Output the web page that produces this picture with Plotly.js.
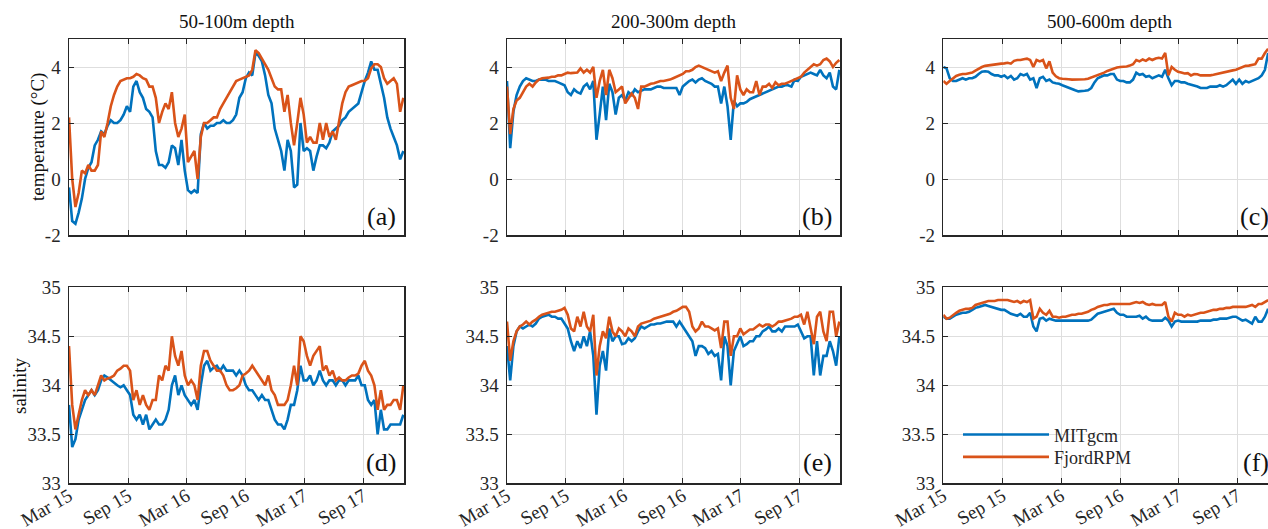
<!DOCTYPE html>
<html>
<head>
<meta charset="utf-8">
<script src="https://cdn.plot.ly/plotly-3.0.1.min.js"></script>
<style>
  html, body { margin: 0; padding: 0; background: #fff; }
  #chart { width: 1268px; height: 529px; }
</style>
</head>
<body>
<div id="chart"></div>
<script>
// Time base: samples every 10 days from 1 March 2015
const startDate = '2015-03-01';
const stepDays = 10;

// Axis ticks
const tickDates = ['2015-03-01', '2015-09-01', '2016-03-01', '2016-09-01', '2017-03-01', '2017-09-01'];
const tickLabels = ['Mar 15', 'Sep 15', 'Mar 16', 'Sep 16', 'Mar 17', 'Sep 17'];
const tempTicks = [-2, 0, 2, 4];
const tempTickLabels = ['-2', '0', '2', '4'];
const saltTicks = [33, 33.5, 34, 34.5, 35];
const saltTickLabels = ['33', '33.5', '34', '34.5', '35'];

const depthTitles = ['50-100m depth', '200-300m depth', '500-600m depth'];
const panelLetters = ['(a)', '(b)', '(c)', '(d)', '(e)', '(f)'];
const modelNames = ['MITgcm', 'FjordRPM'];

// Temperature (°C), 50-100 m
const tempShallowMIT = [-0.3,-1.5,-1.6,-1.2,-0.7,0.0,0.4,0.6,1.2,1.4,
  1.7,1.6,1.9,2.1,2.0,2.0,2.1,2.3,2.6,2.4,
  3.3,3.5,3.1,2.9,2.5,2.4,2.2,1.0,0.5,0.5,
  0.4,0.6,1.2,1.1,0.5,1.4,0.3,-0.4,-0.5,-0.4,
  -0.5,1.6,2.0,1.8,1.9,1.9,2.0,2.0,2.1,2.0,
  2.0,2.1,2.3,2.9,3.1,3.6,3.8,3.7,4.5,4.4,
  4.2,3.7,3.0,2.7,1.8,1.4,1.0,0.3,1.4,1.0,
  -0.3,-0.2,2.0,1.0,1.1,1.0,0.3,0.8,1.2,1.2,
  1.1,1.3,1.7,1.8,1.9,2.1,2.2,2.4,2.5,2.6,
  2.7,3.1,3.5,3.8,4.2,3.9,3.9,3.4,2.9,2.2,
  1.8,1.5,1.2,0.7,1.0];
const tempShallowFjord = [2.2,0.0,-1.0,-0.5,0.3,0.2,0.5,0.3,0.3,0.5,
  1.7,1.5,2.0,2.6,3.0,3.3,3.5,3.55,3.6,3.6,
  3.65,3.75,3.7,3.6,3.55,3.3,3.3,2.9,2.0,2.4,
  2.7,2.5,3.1,2.0,1.5,1.8,2.3,0.6,0.8,1.0,
  0.0,1.5,2.0,2.0,2.1,2.2,2.2,2.5,2.7,2.9,
  3.1,3.3,3.5,3.55,3.6,3.65,3.7,3.9,4.6,4.5,
  4.3,4.1,3.9,3.6,3.3,3.2,3.2,2.4,3.0,2.0,
  1.2,2.0,2.9,2.3,1.3,1.5,1.3,1.3,2.0,1.4,
  2.0,1.5,1.7,1.4,2.0,2.7,3.1,3.3,3.35,3.4,
  3.45,3.5,3.5,3.6,3.95,4.1,4.1,4.0,3.6,3.4,
  3.5,3.6,3.4,2.4,2.9];

// Temperature (°C), 200-300 m
const tempMidMIT = [3.5,1.1,2.4,3.0,3.3,3.5,3.6,3.55,3.5,3.5,
  3.55,3.55,3.55,3.5,3.5,3.5,3.45,3.4,3.35,3.1,
  3.0,3.2,3.1,3.05,3.3,3.4,3.2,3.5,1.4,2.3,
  3.3,2.1,3.4,3.1,2.3,2.9,3.0,2.8,3.1,3.0,
  3.2,3.1,3.15,3.2,3.2,3.2,3.25,3.3,3.3,3.25,
  3.25,3.25,3.25,3.25,3.0,3.3,3.4,3.5,3.55,3.45,
  3.55,3.6,3.5,3.45,3.4,3.3,3.3,2.7,3.3,2.6,
  1.4,2.8,2.6,2.7,2.7,2.75,2.85,2.9,2.95,3.0,
  3.05,3.1,3.15,3.2,3.25,3.3,3.3,3.35,3.35,3.3,
  3.55,3.5,3.65,3.7,3.75,3.8,3.75,3.7,3.9,3.7,
  3.6,3.8,3.3,3.2,3.9];
const tempMidFjord = [3.3,1.6,2.5,2.8,2.9,3.1,3.3,3.4,3.3,3.45,
  3.55,3.6,3.6,3.62,3.65,3.65,3.7,3.7,3.75,3.8,
  3.78,3.78,3.8,3.95,3.8,3.9,3.8,4.0,2.9,3.5,
  3.9,3.0,3.9,3.6,3.1,3.2,3.3,2.7,2.9,3.05,
  2.9,2.5,3.3,3.3,3.35,3.4,3.42,3.45,3.5,3.5,
  3.52,3.55,3.6,3.65,3.7,3.75,3.85,3.85,3.9,4.0,
  4.05,4.0,3.95,3.9,3.85,3.8,3.85,3.5,3.8,4.05,
  2.9,2.5,3.7,3.2,3.0,3.2,3.1,3.1,3.5,3.0,
  3.3,3.3,3.4,3.25,3.45,3.35,3.4,3.4,3.45,3.5,
  3.55,3.6,3.65,3.8,3.9,4.0,4.1,4.05,4.1,4.25,
  4.3,4.2,4.0,4.15,4.25];

// Temperature (°C), 500-600 m
const tempDeepMIT = [4.0,3.95,3.6,3.5,3.5,3.55,3.6,3.55,3.6,3.6,
  3.65,3.75,3.83,3.85,3.83,3.75,3.7,3.7,3.65,3.7,
  3.6,3.68,3.55,3.6,3.75,3.7,3.75,3.55,3.6,3.25,
  3.6,3.65,3.5,3.55,3.45,3.42,3.4,3.35,3.3,3.27,
  3.22,3.17,3.13,3.13,3.15,3.17,3.25,3.45,3.6,3.65,
  3.7,3.7,3.75,3.75,3.55,3.5,3.5,3.45,3.45,3.55,
  3.8,3.72,3.75,3.65,3.68,3.6,3.65,3.7,3.65,3.9,
  3.6,3.35,3.5,3.5,3.45,3.45,3.4,3.37,3.35,3.3,
  3.25,3.25,3.25,3.3,3.3,3.3,3.35,3.3,3.35,3.45,
  3.55,3.4,3.55,3.4,3.5,3.45,3.5,3.55,3.6,3.7,
  3.9,4.5];
const tempDeepFjord = [3.5,3.4,3.5,3.6,3.68,3.72,3.75,3.75,3.78,3.8,
  3.87,3.95,4.0,4.04,4.06,4.08,4.1,4.11,4.12,4.13,
  4.15,4.12,4.22,4.25,4.25,4.28,4.3,4.25,4.0,4.25,
  4.2,4.25,3.95,4.2,3.8,3.67,3.6,3.58,3.58,3.56,
  3.55,3.55,3.55,3.55,3.56,3.58,3.62,3.66,3.72,3.76,
  3.8,3.86,3.9,3.95,3.98,4.0,4.0,4.02,4.05,4.1,
  4.25,4.2,4.27,4.22,4.3,4.25,4.3,4.33,4.3,4.5,
  3.7,4.0,3.9,3.83,3.8,3.77,3.78,3.7,3.75,3.74,
  3.7,3.7,3.68,3.7,3.72,3.75,3.78,3.8,3.82,3.85,
  3.88,3.9,3.95,4.0,4.04,4.05,4.08,4.1,4.3,4.3,
  4.5,4.65];

// Salinity, 50-100 m
const saltShallowMIT = [33.8,33.37,33.45,33.65,33.75,33.85,33.9,33.95,33.9,33.95,
  34.05,34.1,34.08,34.05,34.03,34.0,33.98,34.0,33.95,33.9,
  33.7,33.65,33.7,33.6,33.7,33.55,33.6,33.65,33.6,33.6,
  33.65,33.75,34.0,34.1,33.9,34.0,33.9,33.85,33.8,33.85,
  33.75,34.0,34.2,34.25,34.15,34.18,34.2,34.15,34.2,34.15,
  34.15,34.15,34.1,34.15,34.1,34.0,33.95,33.95,33.9,33.85,
  33.9,33.85,33.85,33.75,33.65,33.6,33.6,33.55,33.65,33.8,
  33.8,33.95,34.2,34.05,34.05,34.1,34.0,34.05,34.15,34.05,
  34.0,34.05,34.05,34.0,34.05,34.05,34.0,34.05,34.05,34.05,
  34.1,34.0,34.0,33.85,33.8,33.85,33.5,33.75,33.55,33.55,
  33.6,33.6,33.6,33.6,33.7];
const saltShallowFjord = [34.4,33.8,33.55,33.7,33.85,33.95,33.9,33.95,33.9,34.0,
  34.1,34.05,34.07,34.08,34.1,34.15,34.17,34.2,34.2,34.15,
  33.85,33.95,33.8,33.9,33.8,33.75,33.85,33.85,34.1,34.05,
  34.2,34.15,34.5,34.3,34.2,34.35,34.1,34.0,34.05,34.0,
  33.85,34.2,34.35,34.35,34.25,34.2,34.15,34.15,34.1,34.0,
  33.95,33.95,33.97,34.0,34.1,34.12,34.15,34.2,34.15,34.1,
  34.05,34.0,34.1,33.95,33.9,33.8,33.8,33.8,33.85,34.0,
  34.2,34.0,34.5,34.45,34.3,34.2,34.3,34.35,34.4,34.15,
  34.2,34.1,34.15,34.05,34.08,34.05,34.05,34.08,34.1,34.1,
  34.12,34.2,34.25,34.15,34.1,34.0,33.75,33.95,33.75,33.8,
  33.8,33.85,33.85,33.75,34.0];

// Salinity, 200-300 m
const saltMidMIT = [34.4,34.05,34.4,34.55,34.6,34.58,34.6,34.62,34.6,34.63,
  34.68,34.7,34.71,34.72,34.7,34.7,34.68,34.68,34.63,34.58,
  34.45,34.35,34.45,34.38,34.5,34.4,34.55,34.3,33.7,34.2,
  34.35,34.15,34.58,34.45,34.5,34.5,34.42,34.43,34.48,34.45,
  34.48,34.55,34.6,34.58,34.6,34.62,34.62,34.63,34.63,34.64,
  34.65,34.65,34.65,34.6,34.65,34.6,34.55,34.5,34.45,34.3,
  34.4,34.4,34.38,34.32,34.35,34.3,34.32,34.05,34.5,34.4,
  34.0,34.35,34.42,34.5,34.4,34.42,34.45,34.45,34.5,34.5,
  34.55,34.57,34.6,34.55,34.55,34.58,34.55,34.6,34.6,34.6,
  34.6,34.62,34.55,34.48,34.5,34.5,34.1,34.45,34.1,34.3,
  34.3,34.45,34.35,34.2,34.5];
const saltMidFjord = [34.65,34.25,34.45,34.55,34.6,34.62,34.65,34.62,34.65,34.67,
  34.7,34.72,34.73,34.74,34.75,34.75,34.76,34.77,34.79,34.72,
  34.58,34.55,34.7,34.6,34.75,34.6,34.55,34.72,34.1,34.4,
  34.55,34.48,34.7,34.55,34.5,34.58,34.55,34.5,34.58,34.55,
  34.5,34.6,34.63,34.64,34.65,34.66,34.68,34.69,34.7,34.71,
  34.72,34.73,34.75,34.76,34.78,34.8,34.8,34.75,34.6,34.55,
  34.58,34.65,34.6,34.6,34.58,34.56,34.58,34.38,34.65,34.65,
  34.3,34.5,34.5,34.58,34.52,34.55,34.57,34.57,34.6,34.62,
  34.6,34.62,34.62,34.6,34.62,34.65,34.65,34.66,34.67,34.68,
  34.7,34.7,34.72,34.62,34.75,34.6,34.42,34.7,34.75,34.55,
  34.45,34.75,34.75,34.5,34.65];

// Salinity, 500-600 m
const saltDeepMIT = [34.7,34.68,34.68,34.7,34.72,34.73,34.74,34.74,34.75,34.77,
  34.79,34.8,34.81,34.82,34.81,34.8,34.79,34.78,34.77,34.77,
  34.75,34.73,34.72,34.71,34.73,34.7,34.7,34.74,34.6,34.55,
  34.68,34.69,34.66,34.68,34.67,34.66,34.66,34.66,34.66,34.66,
  34.66,34.66,34.66,34.66,34.66,34.66,34.67,34.7,34.73,34.74,
  34.75,34.76,34.77,34.78,34.74,34.72,34.72,34.7,34.7,34.7,
  34.7,34.71,34.68,34.7,34.67,34.66,34.66,34.66,34.66,34.69,
  34.66,34.6,34.65,34.66,34.65,34.65,34.65,34.65,34.65,34.65,
  34.66,34.66,34.66,34.66,34.67,34.67,34.68,34.68,34.68,34.69,
  34.7,34.7,34.68,34.66,34.67,34.65,34.63,34.7,34.65,34.65,
  34.7,34.78];
const saltDeepFjord = [34.72,34.68,34.69,34.72,34.74,34.76,34.77,34.78,34.78,34.79,
  34.82,34.83,34.84,34.85,34.86,34.86,34.86,34.87,34.87,34.87,
  34.87,34.86,34.85,34.86,34.84,34.86,34.85,34.87,34.68,34.7,
  34.78,34.74,34.72,34.76,34.7,34.7,34.69,34.7,34.7,34.71,
  34.72,34.72,34.73,34.73,34.74,34.75,34.77,34.78,34.8,34.81,
  34.82,34.82,34.83,34.83,34.83,34.83,34.83,34.83,34.83,34.84,
  34.85,34.84,34.85,34.83,34.82,34.83,34.82,34.82,34.82,34.85,
  34.7,34.65,34.74,34.72,34.72,34.7,34.72,34.71,34.72,34.73,
  34.74,34.74,34.75,34.76,34.77,34.77,34.78,34.78,34.79,34.79,
  34.8,34.8,34.8,34.8,34.8,34.81,34.82,34.8,34.83,34.83,
  34.85,34.87];

// ---- drawing ----
const W = 1268, H = 529;
const px = v => v / W;          // horizontal pixel -> paper
const py = v => 1 - v / H;      // vertical pixel -> paper

function sampleDates(n) {
  const t0 = Date.parse(startDate + 'T00:00:00Z');
  return Array.from({length: n}, (_, i) =>
    new Date(t0 + i * stepDays * 86400000).toISOString().slice(0, 10));
}

const blue = '#0072BD', orange = '#D95319';
const ink = '#262626';
const fontFamily = '"Liberation Serif", "Times New Roman", serif';

const panels = [
  {mit: tempShallowMIT, fjord: tempShallowFjord},
  {mit: tempMidMIT, fjord: tempMidFjord},
  {mit: tempDeepMIT, fjord: tempDeepFjord},
  {mit: saltShallowMIT, fjord: saltShallowFjord},
  {mit: saltMidMIT, fjord: saltMidFjord},
  {mit: saltDeepMIT, fjord: saltDeepFjord}
];

// panel frames in pixels
const colX = [[69, 404], [507, 840], [943.3, 1268]];
const rowY = [[39, 235], [287.3, 483.3]];
const fullEnd = '2018-01-06';
const clippedEnd = '2017-12-04 14:00';

const legendBase = {
  x: px(958), xanchor: 'left', yanchor: 'top',
  bgcolor: 'rgba(0,0,0,0)', borderwidth: 0, itemwidth: 86,
  font: {family: fontFamily, size: 18, color: ink}
};

const traces = [];
const layout = {
  width: W, height: H,
  margin: {l: 0, r: 0, t: 0, b: 0},
  paper_bgcolor: '#fff', plot_bgcolor: '#fff',
  font: {family: fontFamily, size: 19, color: ink},
  showlegend: true,
  legend: Object.assign({}, legendBase, {y: py(416.3)}),
  legend2: Object.assign({}, legendBase, {y: py(438.7)}),
  annotations: []
};

panels.forEach((p, i) => {
  const col = i % 3, row = Math.floor(i / 3);
  const n = i + 1;
  const xa = 'x' + (n === 1 ? '' : n), ya = 'y' + (n === 1 ? '' : n);
  const isLast = col === 2;
  const isLegendPanel = i === 5;

  [p.mit, p.fjord].forEach((vals, j) => {
    traces.push({
      x: sampleDates(vals.length), y: vals,
      type: 'scatter', mode: 'lines',
      name: modelNames[j],
      line: {color: j === 0 ? blue : orange, width: 2.6},
      xaxis: xa, yaxis: ya,
      legend: j === 0 ? 'legend' : 'legend2',
      showlegend: isLegendPanel,
      hoverinfo: 'skip'
    });
  });

  const xKey = 'xaxis' + (n === 1 ? '' : n), yKey = 'yaxis' + (n === 1 ? '' : n);
  layout[xKey] = {
    type: 'date',
    domain: [px(colX[col][0]), Math.min(1, px(colX[col][1]))],
    range: ['2015-03-01', isLast ? clippedEnd : fullEnd],
    anchor: ya,
    tickmode: 'array', tickvals: tickDates, ticktext: tickLabels,
    showticklabels: row === 1, tickangle: -30,
    ticklabelstandoff: -7, ticklabeloverflow: 'allow',
    tickfont: {family: fontFamily, size: 19, color: ink},
    ticks: 'inside', ticklen: 5, tickcolor: ink, tickwidth: 1,
    showline: true, linecolor: ink, linewidth: 1.5, mirror: 'ticks',
    showgrid: true, gridcolor: '#dedede', gridwidth: 1,
    zeroline: false, fixedrange: true
  };
  layout[yKey] = {
    domain: [py(rowY[row][1]), py(rowY[row][0])],
    range: row === 0 ? [-2, 5] : [33, 35],
    anchor: xa,
    tickmode: 'array',
    tickvals: row === 0 ? tempTicks : saltTicks,
    ticktext: row === 0 ? tempTickLabels : saltTickLabels,
    tickfont: {family: fontFamily, size: 19, color: ink},
    ticks: 'inside', ticklen: 5, tickcolor: ink, tickwidth: 1,
    ticklabelstandoff: 3,
    showline: true, linecolor: ink, linewidth: 1.5, mirror: isLast ? false : 'ticks',
    showgrid: true, gridcolor: '#dedede', gridwidth: 1,
    zeroline: false, fixedrange: true
  };

  // panel letter, lower right
  layout.annotations.push({
    text: panelLetters[i], xref: 'paper', yref: 'paper',
    x: px((isLast ? 1277 : colX[col][1]) - 6), y: py(row === 0 ? 217 : 462.5),
    xanchor: 'right', yanchor: 'middle', showarrow: false,
    font: {family: fontFamily, size: 26, color: '#111'}
  });
});

// depth titles
const titleCenters = [236.5, 673.5, 1110];
depthTitles.forEach((t, k) => {
  layout.annotations.push({
    text: t, xref: 'paper', yref: 'paper',
    x: px(titleCenters[k]), y: py(21.5), xanchor: 'center', yanchor: 'middle',
    showarrow: false, font: {family: fontFamily, size: 19, color: '#111'}
  });
});

// y-axis labels
layout.annotations.push({
  text: 'temperature (°C)', xref: 'paper', yref: 'paper',
  x: px(38), y: py(137), xanchor: 'center', yanchor: 'middle', textangle: -90,
  showarrow: false, font: {family: fontFamily, size: 19, color: '#111'}
});
layout.annotations.push({
  text: 'salinity', xref: 'paper', yref: 'paper',
  x: px(19), y: py(386), xanchor: 'center', yanchor: 'middle', textangle: -90,
  showarrow: false, font: {family: fontFamily, size: 19, color: '#111'}
});

Plotly.newPlot('chart', traces, layout, {displayModeBar: false, staticPlot: true});
</script>
</body>
</html>
